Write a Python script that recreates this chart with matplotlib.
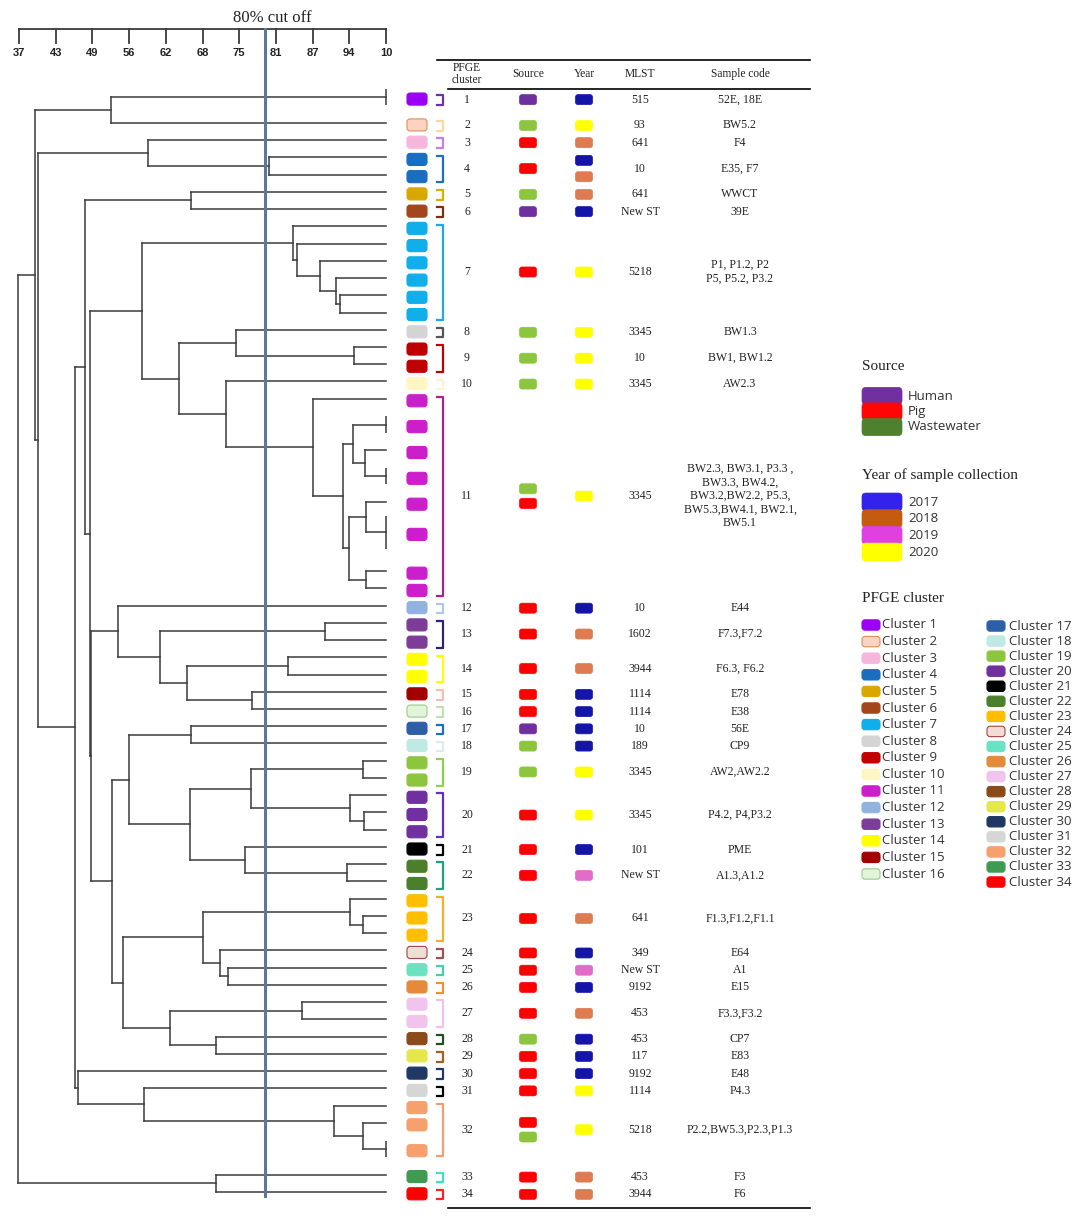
import numpy as np
import matplotlib
matplotlib.use("Agg")
import matplotlib.pyplot as plt
from matplotlib.patches import FancyBboxPatch
from matplotlib.collections import LineCollection

# ---------------- data ----------------
axis_tick_labels = ["37", "43", "49", "56", "62", "68", "75", "81", "87", "94", "10"]
sim_min, sim_max = 37.0, 100.0
cutoff_value = 79.3
cutoff_label = "80% cut off"


def L(cluster, n=1):
    return ("leaf", cluster, n)


def N(sim, a, b):
    return ("node", sim, a, b)


cluster11 = N(87.5, L(11),
              N(92.6, N(94.3, L(11, 2), N(96.4, L(11), L(11, 2))),
                N(93.6, N(96.6, L(11), L(11, 3)), N(96.6, L(11), L(11)))))
top12 = N(52.8, L(1, 2), L(2))
sub34 = N(59.1, L(3), N(80.0, L(4), L(4)))
sub56 = N(66.6, L(5), L(6))
sub7 = N(84.1, L(7), N(84.7, L(7), N(88.7, L(7), N(91.5, L(7), N(92.1, L(7), L(7))))))
subH = N(64.5, N(74.2, L(8), N(94.5, L(9), L(9))), N(72.5, L(10), cluster11))
subF = N(58.2, sub7, subH)
subJ = N(54.0, L(12), N(61.2, N(89.5, L(13), L(13)),
                        N(65.8, N(83.2, L(14), L(14)), N(77.0, L(15), L(16)))))
subO = N(55.8, N(66.6, L(17), L(18)),
         N(66.4, N(76.8, N(96.0, L(19), L(19)), N(93.9, L(20), N(96.3, L(20), L(20)))),
           N(75.8, L(21), N(93.3, L(22), L(22)))))
subN = N(54.8, N(68.6, N(93.9, L(23), N(96.0, L(23), L(23))),
                 N(71.5, L(24), N(72.8, L(25), L(26)))),
         N(62.9, N(85.5, L(27), L(27)), N(70.8, L(28), L(29))))
subM = N(52.9, subO, subN)
subG = N(49.3, subJ, subM)
subE = N(49.2, subF, subG)
subD = N(48.4, sub56, subE)
subV = N(47.1, L(30), N(58.4, L(31), N(91.1, L(32), N(96.0, L(32), L(32, 2)))))
subC = N(46.6, subD, subV)
subB = N(40.2, sub34, subC)
subA = N(39.7, top12, subB)
tree = N(36.8, subA, N(70.8, L(33), L(34)))

pfge_clusters = list(range(1, 35))
sources = [["Human"], ["Wastewater"], ["Pig"], ["Pig"], ["Wastewater"], ["Human"], ["Pig"],
           ["Wastewater"], ["Wastewater"], ["Wastewater"], ["Wastewater", "Pig"], ["Pig"], ["Pig"],
           ["Pig"], ["Pig"], ["Pig"], ["Human"], ["Wastewater"], ["Wastewater"], ["Pig"], ["Pig"],
           ["Pig"], ["Pig"], ["Pig"], ["Pig"], ["Pig"], ["Pig"], ["Wastewater"], ["Pig"], ["Pig"],
           ["Pig"], ["Pig", "Wastewater"], ["Pig"], ["Pig"]]
years = [[2017], [2020], [2018], [2017, 2018], [2018], [2017], [2020], [2020], [2020], [2020],
         [2020], [2017], [2018], [2018], [2017], [2017], [2017], [2017], [2020], [2020], [2017],
         [2019], [2018], [2017], [2019], [2017], [2018], [2017], [2017], [2017], [2020], [2020],
         [2018], [2018]]
mlst = ["515", "93", "641", "10", "641", "New ST", "5218", "3345", "10", "3345", "3345", "10",
        "1602", "3944", "1114", "1114", "10", "189", "3345", "3345", "101", "New ST", "641", "349",
        "New ST", "9192", "453", "453", "117", "9192", "1114", "5218", "453", "3944"]
sample_codes = ["52E, 18E", "BW5.2", "F4", "E35, F7", "WWCT", "39E",
                "P1, P1.2, P2\nP5, P5.2, P3.2", "BW1.3", "BW1, BW1.2", "AW2.3",
                "BW2.3, BW3.1, P3.3 ,\nBW3.3, BW4.2,\nBW3.2,BW2.2, P5.3,\nBW5.3,BW4.1, BW2.1,\nBW5.1",
                "E44", "F7.3,F7.2", "F6.3, F6.2", "E78", "E38", "56E", "CP9", "AW2,AW2.2",
                "P4.2, P4,P3.2", "PME", "A1.3,A1.2", "F1.3,F1.2,F1.1", "E64", "A1", "E15",
                "F3.3,F3.2", "CP7", "E83", "E48", "P4.3", "P2.2,BW5.3,P2.3,P1.3", "F3", "F6"]

table_headers = ["PFGE\ncluster", "Source", "Year", "MLST", "Sample code"]

source_legend = ["Human", "Pig", "Wastewater"]
year_legend = ["2017", "2018", "2019", "2020"]

# ---------------- styles ----------------
source_box_colors = {"Human": "#6f2f9f", "Pig": "#ff0000", "Wastewater": "#8cc63f"}
year_box_colors = {2017: "#1414a8", 2018: "#df7b50", 2019: "#e06cc8", 2020: "#ffff00"}
source_leg_colors = ["#7030a0", "#ff0505", "#4f8030"]
year_leg_colors = ["#3322ee", "#c55a11", "#e040e0", "#ffff00"]

cluster_fc = ["#9b00f5", "#fbd3c0", "#f7b7dc", "#1a6ebf", "#d9a800", "#a3461c", "#10aeea",
              "#d4d4d4", "#c00000", "#fff6c4", "#cc1fcc", "#92b3df", "#7d3c98", "#ffff00",
              "#a40000", "#e2f5da", "#2d5ea8", "#bfe9e3", "#8cc63f", "#7030a0", "#000000",
              "#4c7f2c", "#ffbf00", "#f2dcd3", "#6be3c3", "#e58a3a", "#f1c4ee", "#8b4a1a",
              "#e4e84a", "#1f3864", "#d6d6d6", "#f6a06e", "#3f9a52", "#ff0000"]
cluster_ec = list(cluster_fc)
cluster_ec[1] = "#e0905a"
cluster_ec[15] = "#98cc88"
cluster_ec[23] = "#a04848"
bracket_colors = ["#7030a0", "#ffd9a0", "#c080f0", "#1e6fc0", "#d4b000", "#7a3010", "#20a8e0",
                  "#555555", "#c00000", "#fff0d8", "#b0208a", "#b0c8e8", "#302070", "#ffff00",
                  "#f0c0b0", "#c0e0b0", "#1f6fc0", "#e0e8f0", "#90d050", "#6030c0", "#000000",
                  "#20a080", "#f0b030", "#a05050", "#40d0b0", "#f09030", "#f0c0f0", "#205020",
                  "#a06020", "#1f3864", "#000000", "#f0a070", "#40e0c0", "#ff2020"]

line_col = "#3a3a3a"
serif = ["Liberation Serif", "DejaVu Serif"]
sans = ["Open Sans", "DejaVu Sans"]

# ---------------- layout ----------------
W, H = 1084, 1221
STEP = 17.24
Y0 = 97.0


def r(p):
    return (p - Y0) / STEP


fig = plt.figure(figsize=(W / 100, H / 100), dpi=100)
ylim = (r(H), r(0))
ax_t = fig.add_axes([0, 0, 1, 1])
ax_t.set_xlim(0, W)
ax_t.set_ylim(*ylim)
ax_t.axis("off")
ax_d = fig.add_axes([19 / W, 0, 367 / W, 1])
ax_d.set_xlim(sim_min, sim_max)
ax_d.set_ylim(*ylim)
ax_d.axis("off")
ax_d.patch.set_visible(False)

# leaves in order
leaves = []


def collect(t):
    if t[0] == "leaf":
        leaves.append(t)
        return
    collect(t[2])
    collect(t[3])


collect(tree)
gaps = np.ones(len(leaves))
gaps[0] = 0.0
gaps[1] = 1.5
gaps[18:22] = 1.5
gaps[22] = 1.75
gaps[23] = 2.25
gaps[56] = 1.5
gaps[57] = 1.5
leaf_y = np.cumsum(gaps)

segs = []
ticks = []
counter = iter(range(len(leaves)))


def draw(t):
    if t[0] == "leaf":
        i = next(counter)
        if t[2] > 1:
            h = (t[2] - 1) * 0.47
            ticks.append([(sim_max, leaf_y[i] - h), (sim_max, leaf_y[i] + h)])
        return leaf_y[i], sim_max
    s = t[1]
    ya, xa = draw(t[2])
    yb, xb = draw(t[3])
    segs.append([(s, ya), (xa, ya)])
    segs.append([(s, yb), (xb, yb)])
    segs.append([(s, ya), (s, yb)])
    return (ya + yb) / 2.0, s


draw(tree)
ax_d.add_collection(LineCollection(segs, colors=line_col, linewidths=1.1, capstyle="projecting",
                                   clip_on=False))
ax_d.add_collection(LineCollection(ticks, colors=line_col, linewidths=1.1, clip_on=False))

# top similarity axis
tick_pos = np.linspace(sim_min, sim_max, len(axis_tick_labels))
ax_d.plot([sim_min, sim_max], [r(29), r(29)], color=line_col, lw=1.3, clip_on=False)
for tp, tl in zip(tick_pos, axis_tick_labels):
    ax_d.plot([tp, tp], [r(29), r(43)], color=line_col, lw=1.3, clip_on=False)
    ax_d.text(tp, r(53), tl, ha="center", va="center", fontsize=8, fontweight="bold",
              family=["Liberation Sans Narrow", "Liberation Sans"], color="#222222")

ax_d.plot([cutoff_value, cutoff_value], [r(29), r(1196)], color="#5b7894", lw=2.2, zorder=5,
          clip_on=False)
ax_d.text(80.4, r(18), cutoff_label, ha="center", va="center", fontsize=12, family=serif,
          color="#222222")

# leaf colour boxes and brackets
leaf_clusters = np.array([lf[1] for lf in leaves])
for i, lf in enumerate(leaves):
    c = lf[1]
    ax_t.add_patch(FancyBboxPatch((407, leaf_y[i] + 0.12 - 0.35), 20, 0.7,
                                  boxstyle="round,pad=0,rounding_size=3", mutation_aspect=1 / STEP,
                                  fc=cluster_fc[c - 1], ec=cluster_ec[c - 1], lw=0.8))

row_y = {}
for c in pfge_clusters:
    ys = leaf_y[leaf_clusters == c]
    top, bot = ys.min() - 0.1, ys.max() + 0.45
    ax_t.plot([437, 443, 443, 437], [top, top, bot, bot], color=bracket_colors[c - 1], lw=1.6,
              solid_joinstyle="round")
    row_y[c] = (ys.min() + ys.max()) / 2 + 0.15

# table
ax_t.plot([437, 810], [r(60), r(60)], color="black", lw=1.2)
ax_t.plot([448, 810], [r(89), r(89)], color="black", lw=1.2)
ax_t.plot([448, 810], [r(1208), r(1208)], color="black", lw=1.2)
col_x = [467, 528, 584, 640, 740]
for x, hd in zip(col_x, table_headers):
    ax_t.text(x, r(74), hd, ha="center", va="center", fontsize=8.3, family=serif,
              linespacing=0.95, color="#222222")


def small_box(x, y, color):
    ax_t.add_patch(FancyBboxPatch((x - 8.5, y - 0.29), 17, 0.58,
                                  boxstyle="round,pad=0,rounding_size=2.5",
                                  mutation_aspect=1 / STEP, fc=color, ec=color, lw=0.5))


for k, c in enumerate(pfge_clusters):
    y = row_y[c]
    ax_t.text(col_x[0], y, str(c), ha="center", va="center", fontsize=8.5, family=serif,
              color="#222222")
    srcs = sources[k]
    for j, s in enumerate(srcs):
        small_box(col_x[1], y + (j - (len(srcs) - 1) / 2) * 0.85, source_box_colors[s])
    yrs = years[k]
    for j, yv in enumerate(yrs):
        small_box(col_x[2], y + (j - (len(yrs) - 1) / 2) * 0.95, year_box_colors[yv])
    ax_t.text(col_x[3], y, mlst[k], ha="center", va="center", fontsize=8.5, family=serif,
              color="#222222")
    ax_t.text(col_x[4], y, sample_codes[k], ha="center", va="center", fontsize=8.5, family=serif,
              linespacing=1.18, color="#222222")

# legends
ax_t.text(862, r(366), "Source", ha="left", va="center", fontsize=11, family=serif,
          color="#222222")
for j, (lab, col) in enumerate(zip(source_legend, source_leg_colors)):
    y = r(396 + j * 15.5)
    ax_t.add_patch(FancyBboxPatch((862, y - 0.5), 40, 1.0, boxstyle="round,pad=0,rounding_size=4",
                                  mutation_aspect=1 / STEP, fc=col, ec=col, lw=0.5))
    ax_t.text(908, y, lab, ha="left", va="center", fontsize=9.5, family=sans, color="#333333")

ax_t.text(862, r(475), "Year of sample collection", ha="left", va="center", fontsize=11,
          family=serif, color="#222222")
for j, (lab, col) in enumerate(zip(year_legend, year_leg_colors)):
    y = r(502 + j * 16.7)
    ax_t.add_patch(FancyBboxPatch((862, y - 0.52), 40, 1.04, boxstyle="round,pad=0,rounding_size=4",
                                  mutation_aspect=1 / STEP, fc=col, ec=col, lw=0.5))
    ax_t.text(908, y, lab, ha="left", va="center", fontsize=9.5, family=sans, color="#333333")

ax_t.text(862, r(599), "PFGE cluster", ha="left", va="center", fontsize=11, family=serif,
          color="#222222")
for c in pfge_clusters:
    if c <= 16:
        bx, tx, y = 862, 882, r(625 + (c - 1) * 16.6)
    else:
        bx, tx, y = 987, 1009, r(626 + (c - 17) * 15.06)
    ax_t.add_patch(FancyBboxPatch((bx, y - 0.3), 18, 0.6, boxstyle="round,pad=0,rounding_size=3",
                                  mutation_aspect=1 / STEP, fc=cluster_fc[c - 1],
                                  ec=cluster_ec[c - 1], lw=0.8))
    ax_t.text(tx, y, f"Cluster {c}", ha="left", va="center", fontsize=9.5, family=sans,
              color="#333333")

fig.savefig("out.png", dpi=100)
